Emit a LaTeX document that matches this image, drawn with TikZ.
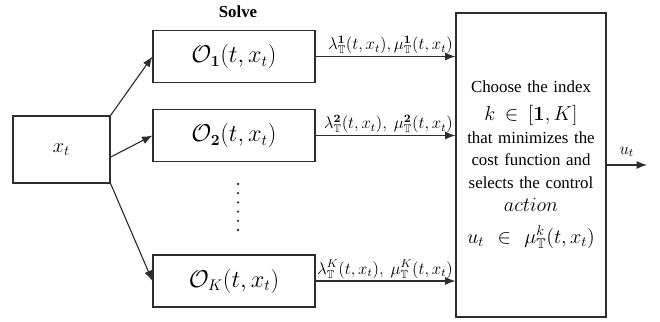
\documentclass[tikz,border=0pt]{standalone}
\usepackage[no-math]{fontspec}
\setmainfont{Liberation Serif}
\usepackage{amsmath, amssymb}
\usepackage{tikz}
\usetikzlibrary{arrows.meta, positioning, calc}
\definecolor{linegray}{RGB}{45, 45, 45}

\begin{document}
\begin{tikzpicture}[
  blk/.style={draw=linegray, thick, minimum width=4.05cm, minimum height=1.3cm, font=\fontsize{16}{18}\selectfont},
  inbox/.style={draw=linegray, thick, minimum width=2.425cm, minimum height=1.675cm, font=\Large},
  selbox/.style={draw=linegray, thick, minimum width=3.75cm, minimum height=7.6cm, text width=3.5cm, align=center, font=\fontsize{12}{16.3}\selectfont},
  arr/.style={draw=linegray, thick, -{Latex[length=2.6mm, width=2mm]}},
  lbl/.style={font=\large, inner sep=1.5pt, anchor=south east}
]
  \useasboundingbox (0, 0) rectangle (16.5, 8.05);

  \node[inbox] (xt) at (1.5375, 4.3125) {$x_t$};

  \node[font=\large\bfseries] (solve) at (5.95, 7.75) {Solve};
  \node[blk] (o1) at (5.85, 6.6375) {$\mathcal{O}_{\mathbf{1}}(t, x_t)$};
  \node[blk] (o2) at (5.85, 4.6625) {$\mathcal{O}_{\mathbf{2}}(t, x_t)$};
  \node[blk] (ok) at (5.85, 1.025) {$\mathcal{O}_{K}(t, x_t)$};

  % vertical dots between the solvers
  \foreach \i in {0,...,5}
    \fill[linegray] (5.95, 3.45 - \i*0.23) circle (0.9pt);

  \node[selbox] (choose) at (13.275, 3.925) {
    Choose the index\\[3pt]
    {\Large $k \in [\mathbf{1}, K]$}\\
    that minimizes the\\
    cost function and\\
    selects the control\\
    {\Large $action$}\\[6pt]
    {\Large $u_t \;\in\; \mu^{k}_{\mathbb{T}}(t, x_t)$}
  };

  % state to solvers
  \draw[arr] (xt.north east) -- (o1.west);
  \draw[arr] ([yshift=-0.19cm]xt.east) -- (o2.west);
  \draw[arr] (xt.south east) -- (ok.west);

  % solvers to selection
  \draw[arr] (o1.east) -- (o1.east -| choose.west)
    node[lbl] {$\lambda^{\mathbf{1}}_{\mathbb{T}}(t, x_t), \mu^{\mathbf{1}}_{\mathbb{T}}(t, x_t)$};
  \draw[arr] (o2.east) -- (o2.east -| choose.west)
    node[lbl] {$\lambda^{\mathbf{2}}_{\mathbb{T}}(t, x_t),\ \mu^{\mathbf{2}}_{\mathbb{T}}(t, x_t)$};
  \draw[arr] (ok.east) -- (ok.east -| choose.west)
    node[lbl] {$\lambda^{K}_{\mathbb{T}}(t, x_t),\ \mu^{K}_{\mathbb{T}}(t, x_t)$};

  % output
  \coordinate (out) at (16.175, 3.925);
  \draw[arr] (choose.east) -- (out) node[midway, above=2pt, font=\large] {$u_t$};
\end{tikzpicture}
\end{document}
